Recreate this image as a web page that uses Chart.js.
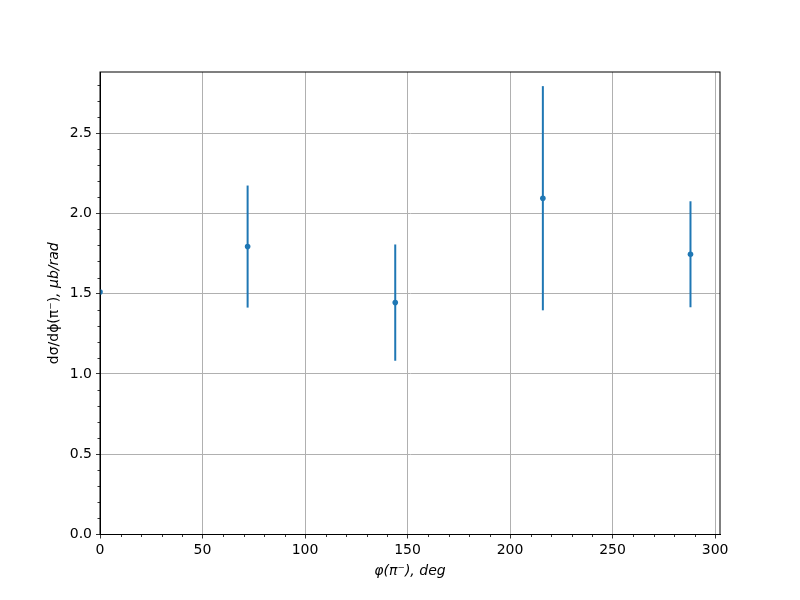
<!DOCTYPE html>
<html>
<head>
<meta charset="utf-8">
<script src="https://cdn.jsdelivr.net/npm/chart.js@4/dist/chart.umd.min.js"></script>
<style>
    html, body { margin: 0; padding: 0; background: #fff; }
    canvas { display: block; }
</style>
</head>
<body>
<canvas id="chart" width="800" height="600"></canvas>
<script>
// Данные: угол и сечение с ошибками
const angles = [0, 72, 144, 216, 288];
const crossSection = [1.51, 1.793, 1.444, 2.094, 1.745];
const errors = [null, 0.38, 0.362, 0.698, 0.33];
const xTicks = [0, 50, 100, 150, 200, 250, 300];
const yTicks = [0.0, 0.5, 1.0, 1.5, 2.0, 2.5];
const yTitleParts = ['dσ/dϕ(π⁻)', ', μb/rad'];

const BLUE = '#1f77b4';
const FONT = { family: 'DejaVu Sans', size: 14 };

// Рамка, минорные деления, подпись оси Y и планки ошибок
const extrasPlugin = {
    id: 'extras',
    beforeDatasetsDraw(chart) {
        const ctx = chart.ctx;
        const x = chart.scales.x, y = chart.scales.y;
        ctx.save();
        ctx.strokeStyle = BLUE;
        ctx.lineWidth = 2;
        angles.forEach((a, i) => {
            const e = errors[i];
            if (e == null) return;
            const px = x.getPixelForValue(a);
            ctx.beginPath();
            ctx.moveTo(px, y.getPixelForValue(crossSection[i] - e));
            ctx.lineTo(px, y.getPixelForValue(crossSection[i] + e));
            ctx.stroke();
        });
        ctx.restore();
    },
    afterDraw(chart) {
        const ctx = chart.ctx;
        const area = chart.chartArea;
        const x = chart.scales.x, y = chart.scales.y;
        ctx.save();
        ctx.strokeStyle = '#000';
        ctx.lineWidth = 0.8;
        ctx.beginPath();
        for (let v = 0; v <= x.max; v += 10) {
            if (v % 50 === 0) continue;
            const px = Math.round(x.getPixelForValue(v)) + 0.5;
            ctx.moveTo(px, area.bottom);
            ctx.lineTo(px, area.bottom + 2.5);
        }
        for (let k = 0; k / 10 <= y.max; k++) {
            if (k % 5 === 0) continue;
            const py = Math.round(y.getPixelForValue(k / 10)) + 0.5;
            ctx.moveTo(area.left, py);
            ctx.lineTo(area.left - 2.5, py);
        }
        ctx.stroke();
        ctx.lineWidth = 1;
        ctx.strokeRect(area.left, area.top, area.right - area.left, area.bottom - area.top);

        // подпись оси Y: первая часть прямым шрифтом, вторая курсивом
        const upright = '14px "DejaVu Sans"';
        const italic = 'italic 14px "DejaVu Sans"';
        ctx.font = upright;
        const w1 = ctx.measureText(yTitleParts[0]).width;
        ctx.font = italic;
        const w2 = ctx.measureText(yTitleParts[1]).width;
        ctx.translate(54, (area.top + area.bottom) / 2);
        ctx.rotate(-Math.PI / 2);
        ctx.fillStyle = '#000';
        ctx.textBaseline = 'middle';
        ctx.textAlign = 'left';
        const start = -(w1 + w2) / 2;
        ctx.font = upright;
        ctx.fillText(yTitleParts[0], start, 0);
        ctx.font = italic;
        ctx.fillText(yTitleParts[1], start + w1, 0);
        ctx.restore();
    }
};

new Chart(document.getElementById('chart').getContext('2d'), {
    type: 'scatter',
    data: {
        datasets: [{
            data: angles.map((a, i) => ({ x: a, y: crossSection[i] })),
            backgroundColor: BLUE,
            borderColor: BLUE,
            pointRadius: 2.8,
            pointBorderWidth: 0
        }]
    },
    options: {
        responsive: false,
        devicePixelRatio: 1,
        animation: false,
        layout: { padding: { top: 72, right: 80, left: 0, bottom: 0 } },
        plugins: { legend: { display: false }, tooltip: { enabled: false } },
        scales: {
            x: {
                type: 'linear',
                min: 0,
                max: 302.4,
                afterFit: s => { s.height = 65.5; },
                afterBuildTicks: s => { s.ticks = xTicks.map(v => ({ value: v })); },
                ticks: { font: FONT, color: '#000', padding: 3, maxRotation: 0 },
                grid: { color: '#b0b0b0', lineWidth: 1, tickColor: '#000', tickLength: 4, tickWidth: 0.8 },
                border: { color: '#000', width: 1 },
                title: {
                    display: true,
                    text: 'φ(π⁻), deg',
                    font: { family: 'DejaVu Sans', size: 14, style: 'italic' },
                    color: '#000',
                    padding: { top: 0, bottom: 20 }
                }
            },
            y: {
                type: 'linear',
                min: 0,
                max: 2.88,
                afterFit: s => { s.width = 100; },
                afterBuildTicks: s => { s.ticks = yTicks.map(v => ({ value: v })); },
                ticks: { font: FONT, color: '#000', padding: 4, callback: v => v.toFixed(1) },
                grid: { color: '#b0b0b0', lineWidth: 1, tickColor: '#000', tickLength: 4, tickWidth: 0.8 },
                border: { color: '#000', width: 1 },
                title: { display: false }
            }
        }
    },
    plugins: [extrasPlugin]
});
</script>
</body>
</html>
